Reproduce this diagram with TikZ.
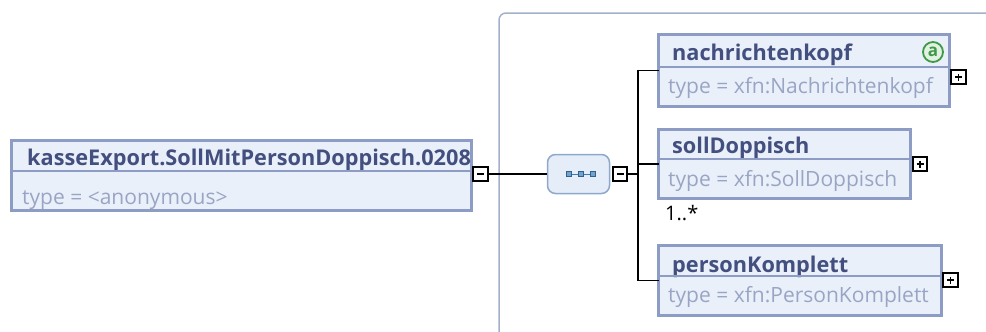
\documentclass[tikz,border=0pt]{standalone}
\usepackage{fontspec}
\setmainfont{Open Sans}
\usetikzlibrary{positioning}
\definecolor{boxborder}{HTML}{8C9CC4}
\definecolor{boxfill}{HTML}{EAF0FA}
\definecolor{titlecol}{HTML}{434F7F}
\definecolor{typecol}{HTML}{99A5C4}
\definecolor{groupcol}{HTML}{A3B0CB}
\definecolor{seqborder}{HTML}{8FA8CC}
\definecolor{seqfill}{HTML}{E4EDF8}
\definecolor{seqdot}{HTML}{3A7AB5}
\definecolor{attrgreen}{HTML}{3E9A46}
\definecolor{attrfill}{HTML}{E2F2E2}
\tikzset{
  elembox/.style={draw=boxborder,line width=3pt,fill=boxfill,inner sep=0pt,outer sep=0pt,anchor=north west},
  sepline/.style={draw=boxborder,line width=1.5pt},
  titletext/.style={anchor=base west,inner sep=0pt,text=titlecol,font=\fontsize{21.7}{22}\selectfont\bfseries},
  typetext/.style={anchor=base west,inner sep=0pt,text=typecol,font=\fontsize{21}{21}\selectfont},
  togglebox/.style={draw=black,line width=1.6pt,fill=white,minimum size=14.5pt,inner sep=0pt,outer sep=0pt},
  minusbox/.style={togglebox,path picture={\draw[line width=1.6pt]
    ([xshift=-3.5pt]path picture bounding box.center) -- ([xshift=3.5pt]path picture bounding box.center);}},
  plusbox/.style={togglebox,path picture={\draw[line width=1.6pt]
    ([xshift=-3.5pt]path picture bounding box.center) -- ([xshift=3.5pt]path picture bounding box.center)
    ([yshift=-3.5pt]path picture bounding box.center) -- ([yshift=3.5pt]path picture bounding box.center);}},
  conn/.style={draw=black,line width=1.4pt},
  seqdotbox/.style={draw=seqdot!80!black,fill=seqdot!70,line width=0.6pt,minimum size=4.5pt,inner sep=0pt}
}
\begin{document}
\begin{tikzpicture}[x=1pt,y=-1pt]
\useasboundingbox (0,0) rectangle (986,332);
\clip (0,0) rectangle (986,332);
% group frame
\draw[groupcol,line width=1.5pt,rounded corners=7pt] (1010,13) -- (499,13) -- (499,345);
% root element
\node[elembox,minimum width=460pt,minimum height=70pt] (root) at (11.5,140.5) {};
\node[titletext] (roottitle) at (27,165) {kasseExport.SollMitPersonDoppisch.0208};
\draw[sepline] (13,171) -- (470,171);
\node[typetext] (roottype) at (22,204) {type = <anonymous>};
\node[minusbox] (rootminus) at (480.5,174) {};
% sequence compositor
\node[draw=seqborder,fill=seqfill,line width=1.5pt,rounded corners=8pt,minimum width=62pt,minimum height=39pt,inner sep=0pt] (seq) at (578.5,174) {};
\node[seqdotbox] (dotA) at (569,174) {};
\node[seqdotbox] (dotB) at (581,174) {};
\node[seqdotbox] (dotC) at (593,174) {};
\draw[seqdot,line width=0.8pt] (dotA) -- (dotB) (dotB) -- (dotC);
\node[minusbox] (seqminus) at (620,174) {};
\draw[conn] (rootminus.east) -- (seq.west);
% children
\node[elembox,minimum width=291pt,minimum height=72pt] (nk) at (658.5,34.5) {};
\node[titletext] (nktitle) at (672,60) {nachrichtenkopf};
\draw[sepline] (660,67) -- (948,67);
\node[typetext] (nktype) at (668,93) {type = xfn:Nachrichtenkopf};
\node[circle,draw=attrgreen,fill=attrfill,line width=1.8pt,minimum size=20pt,inner sep=0pt,text=attrgreen,font=\fontsize{17}{17}\selectfont\bfseries] (nkattr) at (933,52) {a};
\node[plusbox] (nkplus) at (958.5,77) {};

\node[elembox,minimum width=252pt,minimum height=69pt] (sd) at (658.5,129.5) {};
\node[titletext] (sdtitle) at (672,153) {sollDoppisch};
\draw[sepline] (660,159) -- (909,159);
\node[typetext] (sdtype) at (668,186) {type = xfn:SollDoppisch};
\node[plusbox] (sdplus) at (920,164) {};
\node[anchor=base west,inner sep=0pt,font=\fontsize{20}{20}\selectfont] (sdmult) at (665,220) {1..*};

\node[elembox,minimum width=283pt,minimum height=70pt] (pk) at (658.5,245.5) {};
\node[titletext] (pktitle) at (672,272) {personKomplett};
\draw[sepline] (660,276) -- (940,276);
\node[typetext] (pktype) at (668,302) {type = xfn:PersonKomplett};
\node[plusbox] (pkplus) at (950.5,280) {};
% connectors
\coordinate (trunk) at (638,174);
\draw[conn] (seqminus.east) -- (trunk);
\draw[conn] (nk.west) -| (trunk) |- (pk.west);
\draw[conn] (sd.west) -- (sd.west -| trunk);
\end{tikzpicture}
\end{document}
